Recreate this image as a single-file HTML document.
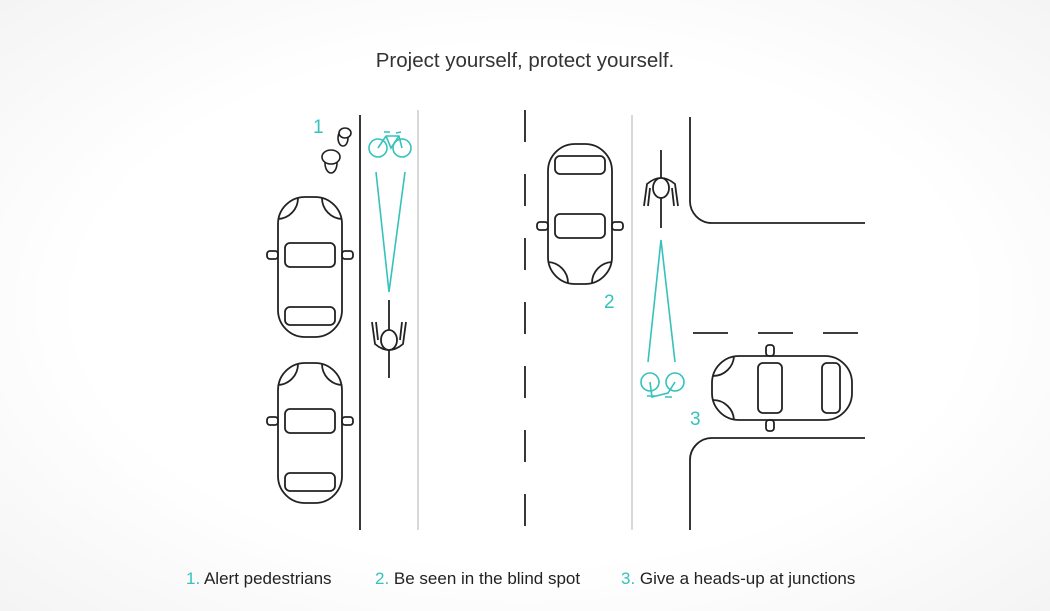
<!DOCTYPE html>
<html><head><meta charset="utf-8"><style>
html,body{margin:0;padding:0;}
body{width:1050px;height:611px;overflow:hidden;background:radial-gradient(ellipse at center,#ffffff 60%,#f4f4f4 100%);font-family:"Liberation Sans",sans-serif;}
svg{position:absolute;left:0;top:0;}
</style></head><body>
<svg width="1050" height="611" viewBox="0 0 1050 611" xmlns="http://www.w3.org/2000/svg">
<defs>
<g id="car" fill="none" stroke="#222" stroke-width="1.8">
  <rect x="-32" y="-70" width="64" height="140" rx="27"/>
  <path d="M-32,-48 A21,21 0 0 0 -12,-69"/>
  <path d="M32,-48 A21,21 0 0 1 12,-69"/>
  <rect x="-25" y="-24" width="50" height="24" rx="5"/>
  <rect x="-25" y="40" width="50" height="18" rx="5"/>
  <rect x="-43" y="-16" width="11" height="8" rx="3"/>
  <rect x="32" y="-16" width="11" height="8" rx="3"/>
</g>
<g id="cyc" fill="none" stroke="#222" stroke-width="1.8">
  <line x1="0" y1="-38" x2="0" y2="40"/>
  <path d="M-17,-16 L-14,6 Q0,18 14,6 L17,-16 M-13,-16 L-11,2 M13,-16 L11,2"/>
  <ellipse cx="0" cy="2" rx="8" ry="10" fill="#fff"/>
</g>
</defs>
<text x="525" y="67" text-anchor="middle" font-size="20.5" fill="#333">Project yourself, protect yourself.</text>
<g stroke-width="1.8" fill="none">
  <line x1="360" y1="115" x2="360" y2="530" stroke="#222"/>
  <line x1="418" y1="110" x2="418" y2="530" stroke="#ccc" stroke-width="1.5"/>
  <line x1="525" y1="110" x2="525" y2="530" stroke="#222" stroke-dasharray="32,32"/>
  <line x1="632" y1="115" x2="632" y2="530" stroke="#ccc" stroke-width="1.5"/>
  <path d="M690,117 V200 A22,22 0 0 0 712,223 H865" stroke="#222"/>
  <path d="M865,438 H712 A22,22 0 0 0 690,460 V530" stroke="#222"/>
  <line x1="693" y1="333" x2="865" y2="333" stroke="#222" stroke-dasharray="35,30"/>
</g>
<use href="#car" transform="translate(310,267)"/>
<use href="#car" transform="translate(310,433)"/>
<use href="#car" transform="translate(580,214) rotate(180)"/>
<use href="#car" transform="translate(782,388) rotate(-90)"/>
<use href="#cyc" transform="translate(389,338)"/>
<use href="#cyc" transform="translate(661,190) rotate(180)"/>
<g fill="#fff" stroke="#222" stroke-width="1.6">
  <ellipse cx="331" cy="163" rx="6" ry="10"/>
  <ellipse cx="331" cy="157" rx="9" ry="7"/>
  <ellipse cx="343" cy="138" rx="5" ry="8"/>
  <ellipse cx="345" cy="133" rx="6" ry="5"/>
</g>
<g stroke="#35c2bd" fill="none" stroke-width="1.6">
  <circle cx="378" cy="148" r="9"/>
  <circle cx="402" cy="148" r="9"/>
  <path d="M378,148 L386,136 L399,136 L402,148 M386,136 L391,148 L399,136 M384,132 H390 M396,133 L401,132"/>
  <path d="M376,172 L389,292 L405,172"/>
  <path d="M648,362 L661,240 L675,362"/>
  <circle cx="650" cy="382" r="9"/>
  <circle cx="675" cy="382" r="9"/>
  <path d="M650,382 L652,397 L668,393 L675,382 M647,396 H656 M665,397 H672"/>
</g>
<g font-size="19" fill="#35c2bd">
  <text x="313" y="133">1</text>
  <text x="604" y="308">2</text>
  <text x="690" y="425">3</text>
</g>
<g font-size="17" fill="#222">
  <text x="186" y="584"><tspan fill="#35c2bd">1.</tspan> Alert pedestrians</text>
  <text x="375" y="584"><tspan fill="#35c2bd">2.</tspan> Be seen in the blind spot</text>
  <text x="621" y="584"><tspan fill="#35c2bd">3.</tspan> Give a heads-up at junctions</text>
</g>
</svg>
</body></html>
